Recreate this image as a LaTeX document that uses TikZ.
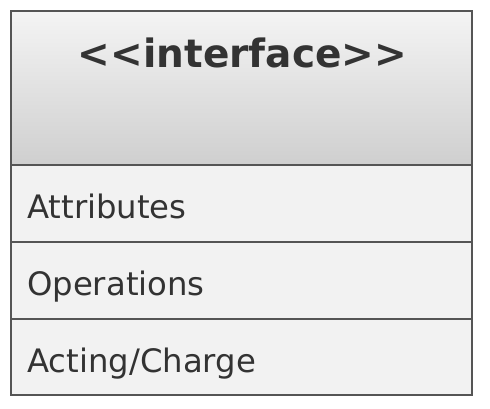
\documentclass[tikz,border=0pt]{standalone}
\usepackage{fontspec}
\setmainfont{DejaVu Sans}
\usetikzlibrary{positioning}
\definecolor{linegray}{HTML}{555555}
\definecolor{textgray}{HTML}{333333}
\definecolor{rowfill}{HTML}{F2F2F2}
\definecolor{headtop}{HTML}{F4F4F4}
\definecolor{headbot}{HTML}{CFCFCF}

\begin{document}
\begin{tikzpicture}[x=1pt,y=1pt,
    rowtext/.style={anchor=base west, text=textgray, inner sep=0pt, font=\fontsize{32.3}{38}\selectfont},
    headtext/.style={anchor=base, text=textgray, inner sep=0pt, font=\fontsize{39}{46}\selectfont\bfseries}]
            \useasboundingbox (0,0) rectangle (490,408);
            % compartments
            \shade[top color=headtop, bottom color=headbot] (11,243) rectangle (472,397);
            \fill[rowfill] (11,13) rectangle (472,243);
            \draw[linegray, line width=1.5pt] (11,243) -- (472,243);
            \draw[linegray, line width=1.5pt] (11,166) -- (472,166);
            \draw[linegray, line width=1.5pt] (11,89) -- (472,89);
            \draw[linegray, line width=2pt] (11,13) rectangle (472,397);
            % labels
            \node[headtext] (iface) at (242.5,340) {<{}<interface>{}>};
            \node[rowtext] (attrs) at (27,190) {Attributes};
            \node[rowtext] (ops) at (27,113) {Operations};
            \node[rowtext] (acting) at (27,36) {Acting/Charge};
        \end{tikzpicture}
\end{document}
